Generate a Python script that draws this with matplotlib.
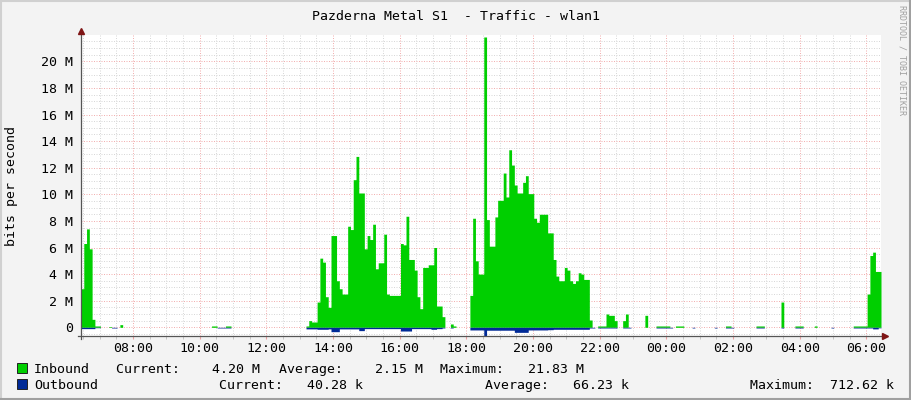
import numpy as np
import matplotlib
matplotlib.use('Agg')
import matplotlib.pyplot as plt
from matplotlib.lines import Line2D
from matplotlib.patches import Rectangle
from matplotlib.ticker import MultipleLocator, FuncFormatter

plt.rcParams['font.family'] = ['DejaVu Sans Mono']
plt.rcParams['font.size'] = 9.5

title = "Pazderna Metal S1  - Traffic - wlan1"

# 5 minute samples from 06:26 to 06:26 next day, Mbit/s (one row = 1 hour)
inbound = [
    2.9, 6.3, 7.4, 5.9, 0.6, 0.1, 0.1, 0, 0, 0, 0.05, 0,
    0, 0, 0.2, 0, 0, 0, 0, 0, 0, 0, 0, 0,
    0, 0, 0, 0, 0, 0, 0, 0, 0, 0, 0, 0,
    0, 0, 0, 0, 0, 0, 0, 0, 0, 0, 0, 0.1,
    0.1, 0, 0, 0, 0.1, 0.1, 0, 0, 0, 0, 0, 0,
    0, 0, 0, 0, 0, 0, 0, 0, 0, 0, 0, 0,
    0, 0, 0, 0, 0, 0, 0, 0, 0, 0.1, 0.5, 0.4,
    0.4, 1.9, 5.2, 4.9, 2.3, 1.5, 6.9, 6.9, 3.5, 2.9, 2.5, 2.5,
    7.6, 7.35, 11.1, 12.85, 10.1, 10.1, 5.9, 6.9, 6.6, 7.75, 4.4, 4.85,
    4.85, 7.0, 2.5, 2.4, 2.4, 2.4, 2.4, 6.3, 6.2, 8.35, 5.1, 5.1,
    4.3, 2.3, 1.4, 4.5, 4.5, 4.7, 4.7, 6.0, 1.6, 1.6, 0.8, 0,
    0, 0.25, 0.1, 0, 0, 0, 0, 0, 2.4, 8.2, 5.0, 4.0,
    4.0, 21.83, 8.1, 6.1, 6.1, 8.3, 9.55, 9.55, 11.6, 9.8, 13.35, 12.2,
    10.7, 10.1, 10.1, 10.9, 11.4, 10.05, 10.05, 8.2, 7.9, 8.5, 8.5, 8.5,
    7.1, 7.1, 5.1, 3.85, 3.5, 3.5, 4.5, 4.3, 3.5, 3.3, 3.5, 4.1,
    4.0, 3.6, 3.6, 0.55, 0, 0, 0.1, 0.1, 0.1, 1.0, 0.9, 0.9,
    0.5, 0, 0, 0.5, 1.0, 0, 0, 0, 0, 0, 0, 0.9,
    0, 0, 0, 0.1, 0.1, 0.1, 0.1, 0.1, 0, 0, 0.1, 0.1,
    0.1, 0, 0, 0, 0, 0, 0, 0, 0, 0, 0, 0,
    0, 0, 0, 0, 0.1, 0.1, 0, 0, 0, 0, 0, 0,
    0, 0, 0, 0.1, 0.1, 0.1, 0, 0, 0, 0, 0, 0,
    1.9, 0, 0, 0, 0, 0.1, 0.1, 0.1, 0, 0, 0, 0,
    0.1, 0, 0, 0, 0, 0, 0, 0, 0, 0, 0, 0,
    0, 0, 0.1, 0.1, 0.1, 0.1, 0.1, 2.5, 5.4, 5.65, 4.2, 4.2,
]

outbound = [
    0.1, 0.1, 0.1, 0.1, 0.1, 0.03, 0.03, 0, 0, 0, 0, 0.05,
    0.05, 0, 0, 0, 0, 0, 0, 0, 0, 0, 0, 0,
    0, 0, 0, 0, 0, 0, 0, 0, 0, 0, 0, 0,
    0, 0, 0, 0, 0, 0, 0, 0, 0, 0, 0, 0,
    0, 0.05, 0.05, 0.05, 0.05, 0.05, 0, 0, 0, 0, 0, 0,
    0, 0, 0, 0, 0, 0, 0, 0, 0, 0, 0, 0,
    0, 0, 0, 0, 0, 0, 0, 0, 0, 0.12, 0.12, 0.12,
    0.12, 0.15, 0.15, 0.15, 0.15, 0.12, 0.33, 0.33, 0.33, 0.12, 0.12, 0.12,
    0.12, 0.12, 0.12, 0.12, 0.25, 0.25, 0.1, 0.1, 0.1, 0.1, 0.1, 0.1,
    0.1, 0.1, 0.1, 0.1, 0.1, 0.1, 0.1, 0.28, 0.28, 0.28, 0.28, 0.1,
    0.1, 0.1, 0.1, 0.1, 0.1, 0.1, 0.15, 0.15, 0.1, 0.1, 0.05, 0,
    0, 0.05, 0, 0, 0, 0, 0, 0, 0.2, 0.2, 0.2, 0.2,
    0.2, 0.71, 0.22, 0.22, 0.22, 0.22, 0.22, 0.22, 0.22, 0.22, 0.22, 0.22,
    0.38, 0.38, 0.38, 0.38, 0.38, 0.2, 0.2, 0.2, 0.2, 0.2, 0.2, 0.2,
    0.18, 0.18, 0.15, 0.15, 0.15, 0.15, 0.15, 0.15, 0.15, 0.15, 0.15, 0.15,
    0.15, 0.15, 0.15, 0.05, 0.05, 0, 0.05, 0.05, 0.05, 0.05, 0.05, 0.05,
    0.05, 0, 0, 0.05, 0.05, 0.05, 0, 0, 0, 0, 0, 0,
    0, 0, 0, 0.05, 0.05, 0.05, 0.05, 0.05, 0.05, 0, 0, 0,
    0, 0, 0, 0, 0.05, 0, 0, 0, 0, 0, 0, 0,
    0.05, 0, 0, 0, 0.05, 0.05, 0.05, 0, 0, 0, 0, 0,
    0, 0, 0, 0.05, 0.05, 0.05, 0, 0, 0, 0, 0, 0,
    0.05, 0, 0, 0, 0, 0.05, 0.05, 0.05, 0, 0, 0, 0,
    0, 0, 0, 0, 0, 0, 0.05, 0, 0, 0, 0, 0,
    0, 0, 0.05, 0.05, 0.05, 0.05, 0.05, 0.05, 0.05, 0.12, 0.12, 0.04,
]

series_names = ["Inbound", "Outbound"]
series_colors = ["#00CF00", "#002A97"]
current = ["4.20 M", "40.28 k"]
average = ["2.15 M", "66.23 k"]
maximum = ["21.83 M", "712.62 k"]

W, H = 911, 400
t_start = 6 + 26.4 / 60

def fx(x):
    return x / W

def fy(y):
    return 1 - y / H

fig = plt.figure(figsize=(W / 100, H / 100), dpi=100, facecolor='#F3F3F3')
ax = fig.add_axes([fx(81), fy(336), 800 / W, 301 / H])
ax.set_facecolor('white')

inb = np.array(inbound)
outb = np.array(outbound)
edges = t_start + np.arange(len(inb) + 1) / 12
ax.fill_between(edges, np.append(inb, inb[-1]), 0, step='post',
                color=series_colors[0], lw=0)
ax.fill_between(edges, -np.append(outb, outb[-1]), 0, step='post',
                color=series_colors[1], lw=0)

ax.set_xlim(edges[0], edges[-1])
ax.set_ylim(-0.654, 21.98)

ax.xaxis.set_major_locator(MultipleLocator(2))
ax.xaxis.set_minor_locator(MultipleLocator(0.5))
ax.xaxis.set_major_formatter(FuncFormatter(lambda v, p: "%02d:00" % (int(round(v)) % 24)))
ax.yaxis.set_major_locator(MultipleLocator(2))
ax.yaxis.set_minor_locator(MultipleLocator(0.5))
ax.yaxis.set_major_formatter(FuncFormatter(lambda v, p: "0" if abs(v) < 1e-9 else "%d M" % round(v)))

ax.set_axisbelow(True)
ax.grid(which='major', color='#F2B0B0', lw=0.72, ls=(0, (1, 1.5)))
ax.grid(which='minor', color='#D8D8D8', lw=0.72, ls=(0, (1, 1.5)))

ax.tick_params(axis='x', which='major', length=2.5, color='#E8A0A0', pad=2)
ax.tick_params(axis='x', which='minor', length=2.5, color='#BBBBBB')
ax.tick_params(axis='y', which='both', length=0, pad=6)
for s in ax.spines.values():
    s.set_visible(False)

# axes lines with arrows
fig.add_artist(Line2D([fx(81), fx(81)], [fy(339), fy(32)], color='#555555', lw=0.9))
fig.add_artist(Line2D([fx(78), fx(884)], [fy(336), fy(336)], color='#555555', lw=0.9))
fig.add_artist(Line2D([fx(81)], [fy(31)], marker='^', ms=4, color='#7F1515', lw=0))
fig.add_artist(Line2D([fx(885)], [fy(336)], marker='>', ms=4, color='#7F1515', lw=0))

fig.text(0.5, fy(19.5), title, ha='center', va='baseline')
fig.text(fx(12), fy(185.5), "bits per second", rotation=90, ha='center', va='center')
fig.text(fx(902), fy(5), "RRDTOOL / TOBI OETIKER", rotation=270, ha='center', va='top',
         fontsize=6, color='#A0A0A0')

# legend rows
rows_y = [373, 389]
cols = [(116, 279, 440), (219, 485, 749.6)]
gaps = [("    ", "    ", "   "), ("   ", "   ", "  ")]
for k in range(2):
    y = rows_y[k]
    fig.add_artist(Rectangle((fx(17), fy(y)), 10 / W, 10 / H, transform=fig.transFigure,
                             facecolor=series_colors[k], edgecolor='#222222', lw=0.7))
    fig.text(fx(34), fy(y), series_names[k], va='baseline')
    c1, c2, c3 = cols[k]
    g1, g2, g3 = gaps[k]
    fig.text(fx(c1), fy(y), "Current:" + g1 + current[k], va='baseline')
    fig.text(fx(c2), fy(y), "Average:" + g2 + average[k], va='baseline')
    fig.text(fx(c3), fy(y), "Maximum:" + g3 + maximum[k], va='baseline')

# 3d frame
fig.add_artist(Line2D([0, 1], [fy(0.5), fy(0.5)], color='#D0D0D0', lw=1.5))
fig.add_artist(Line2D([fx(0.5), fx(0.5)], [0, 1], color='#D0D0D0', lw=1.5))
fig.add_artist(Line2D([0, 1], [fy(399.3), fy(399.3)], color='#A0A0A0', lw=1.5))
fig.add_artist(Line2D([fx(910.3), fx(910.3)], [0, 1], color='#A0A0A0', lw=1.5))

fig.savefig('out.png', dpi=100, facecolor=fig.get_facecolor())
